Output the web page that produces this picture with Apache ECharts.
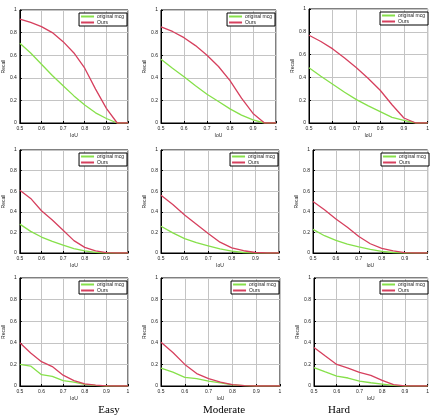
<!DOCTYPE html>
<html>
<head>
<meta charset="utf-8">
<script src="https://cdn.jsdelivr.net/npm/echarts@6/dist/echarts.min.js"></script>
<style>
  html, body { margin: 0; padding: 0; background: #fff; }
  #main { width: 432px; height: 416px; }
</style>
</head>
<body>
<div id="main"></div>
<script>
// IoU thresholds (x axis)
var iou = [0.5, 0.55, 0.6, 0.65, 0.7, 0.75, 0.8, 0.85, 0.9, 0.95, 1.0];
var xTicks = ['0.5', '0.6', '0.7', '0.8', '0.9', '1'];
var yTicks = ['0', '0.2', '0.4', '0.6', '0.8', '1'];
var columns = ['Easy', 'Moderate', 'Hard'];
var seriesNames = ['original mcg', 'Ours'];

// row 1
var mcgEasy1 = [0.705, 0.62, 0.52, 0.42, 0.33, 0.24, 0.16, 0.09, 0.04, 0.0, 0.0];
var oursEasy1 = [0.92, 0.89, 0.853, 0.80, 0.72, 0.62, 0.485, 0.30, 0.13, 0.0, 0.0];
var mcgModerate1 = [0.565, 0.485, 0.41, 0.33, 0.255, 0.19, 0.125, 0.07, 0.027, 0.0, 0.0];
var oursModerate1 = [0.85, 0.81, 0.755, 0.685, 0.60, 0.50, 0.375, 0.22, 0.085, 0.0, 0.0];
var mcgHard1 = [0.485, 0.41, 0.34, 0.27, 0.205, 0.15, 0.10, 0.05, 0.023, 0.0, 0.0];
var oursHard1 = [0.77, 0.715, 0.65, 0.57, 0.485, 0.39, 0.287, 0.16, 0.044, 0.0, 0.0];
// row 2
var mcgEasy2 = [0.28, 0.21, 0.155, 0.113, 0.077, 0.042, 0.02, 0.006, 0.0, 0.0, 0.0];
var oursEasy2 = [0.61, 0.53, 0.41, 0.32, 0.22, 0.12, 0.055, 0.02, 0.003, 0.0, 0.0];
var mcgModerate2 = [0.26, 0.195, 0.14, 0.10, 0.07, 0.04, 0.018, 0.005, 0.0, 0.0, 0.0];
var oursModerate2 = [0.56, 0.47, 0.37, 0.28, 0.19, 0.105, 0.05, 0.022, 0.005, 0.0, 0.0];
var mcgHard2 = [0.23, 0.168, 0.123, 0.087, 0.06, 0.035, 0.016, 0.005, 0.0, 0.0, 0.0];
var oursHard2 = [0.50, 0.42, 0.33, 0.25, 0.16, 0.09, 0.045, 0.02, 0.004, 0.0, 0.0];
// row 3
var mcgEasy3 = [0.20, 0.185, 0.105, 0.09, 0.05, 0.035, 0.015, 0.005, 0.0, 0.0, 0.0];
var oursEasy3 = [0.40, 0.305, 0.225, 0.18, 0.10, 0.05, 0.02, 0.008, 0.002, 0.0, 0.0];
var mcgModerate3 = [0.165, 0.128, 0.08, 0.068, 0.046, 0.028, 0.01, 0.003, 0.0, 0.0, 0.0];
var oursModerate3 = [0.405, 0.31, 0.20, 0.115, 0.068, 0.035, 0.012, 0.004, 0.0, 0.0, 0.0];
var mcgHard3 = [0.17, 0.13, 0.092, 0.074, 0.046, 0.03, 0.018, 0.006, 0.0, 0.0, 0.0];
var oursHard3 = [0.357, 0.277, 0.20, 0.166, 0.126, 0.098, 0.052, 0.012, 0.002, 0.0, 0.0];

var panelData = [
  [mcgEasy1, oursEasy1], [mcgModerate1, oursModerate1], [mcgHard1, oursHard1],
  [mcgEasy2, oursEasy2], [mcgModerate2, oursModerate2], [mcgHard2, oursHard2],
  [mcgEasy3, oursEasy3], [mcgModerate3, oursModerate3], [mcgHard3, oursHard3]
];

// plot boxes [left, top, width, height]
var boxes = [
  [15, 10, 113, 113], [161, 10, 115, 113], [309, 9, 120, 114],
  [14, 150, 114, 103], [161, 150, 118, 103], [313, 150, 117, 103],
  [14, 278, 114, 108], [161, 278, 119, 108], [314, 278, 115, 108]
];

var colors = ['#86e04a', '#d6405e'];
var font = 'Liberation Sans, Arial, sans-serif';

var myChart = echarts.init(document.getElementById('main'));

var grids = [], xAxes = [], yAxes = [], series = [], legends = [], titles = [];

boxes.forEach(function (b, i) {
  grids.push({
    left: b[0], top: b[1], width: b[2], height: b[3],
    show: true, borderColor: '#000', borderWidth: 1, backgroundColor: '#fff'
  });
  xAxes.push({
    gridIndex: i, type: 'value', min: 0.5, max: 1, interval: 0.1,
    name: 'IoU', nameLocation: 'middle', nameGap: 10,
    nameTextStyle: { fontSize: 5, fontFamily: font, color: '#222' },
    axisLine: { show: true, lineStyle: { color: '#000', width: 1 } },
    axisTick: { show: true, inside: true, length: 2, lineStyle: { color: '#000' } },
    axisLabel: {
      fontSize: 5, fontFamily: font, color: '#222', margin: 3,
      formatter: function (v) { return xTicks[Math.round((v - 0.5) * 10)]; }
    },
    splitLine: { show: true, lineStyle: { color: '#c4c4c4', width: 1 } }
  });
  yAxes.push({
    gridIndex: i, type: 'value', min: 0, max: 1, interval: 0.2,
    name: 'Recall', nameLocation: 'middle', nameGap: 9,
    nameTextStyle: { fontSize: 5, fontFamily: font, color: '#222' },
    axisLine: { show: true, lineStyle: { color: '#000', width: 1 } },
    axisTick: { show: true, inside: true, length: 2, lineStyle: { color: '#000' } },
    axisLabel: {
      fontSize: 5, fontFamily: font, color: '#222', margin: 3,
      formatter: function (v) { return yTicks[Math.round(v * 5)]; }
    },
    splitLine: { show: true, lineStyle: { color: '#c4c4c4', width: 1 } }
  });
  panelData[i].forEach(function (vals, k) {
    series.push({
      name: seriesNames[k], type: 'line', xAxisIndex: i, yAxisIndex: i,
      data: iou.map(function (x, j) { return [x, vals[j]]; }),
      showSymbol: false,
      lineStyle: { color: colors[k], width: 1.3 },
      itemStyle: { color: colors[k] },
      z: 3 + k
    });
  });
  legends.push({
    right: 432 - (b[0] + b[2]) + 1, top: b[1] + 3,
    orient: 'vertical', itemGap: 1, itemWidth: 13, itemHeight: 2,
    icon: 'rect', padding: [1, 3, 1, 2],
    borderColor: '#000', borderWidth: 1, backgroundColor: '#fff',
    textStyle: { fontSize: 5, fontFamily: font, color: '#222', padding: [0, 0, 0, -2] },
    data: seriesNames.map(function (n) { return { name: n }; }),
    selectedMode: false
  });
});

// column captions under the bottom row
var captionX = [104, 219, 334];
columns.forEach(function (c, i) {
  titles.push({
    text: c, left: captionX[i], top: 400, textAlign: 'center',
    textStyle: { fontSize: 11, fontWeight: 'normal', fontFamily: 'Liberation Serif, Times New Roman, serif', color: '#000' }
  });
});

var option = {
  animation: false,
  title: titles,
  grid: grids,
  xAxis: xAxes,
  yAxis: yAxes,
  legend: legends,
  series: series
};

myChart.setOption(option);
</script>
</body>
</html>
